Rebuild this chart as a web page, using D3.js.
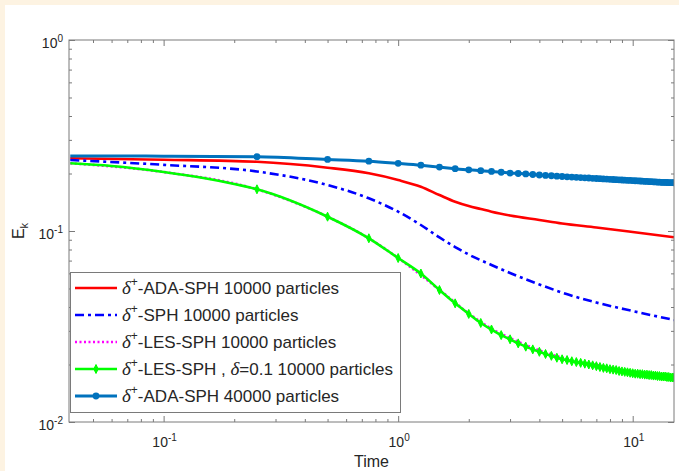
<!DOCTYPE html>
<html><head><meta charset="utf-8">
<script src="https://cdn.jsdelivr.net/npm/d3@7"></script>
<style>
html,body{margin:0;padding:0;background:#fdf3e2;}
svg{display:block;font-family:"Liberation Sans",Arial,sans-serif;}
</style></head><body>
<svg id="chart" width="679" height="471"></svg>
<script>
// ---- data (Time vs kinetic energy E_k, log-log) ----
const TIME_GRID = [0.25,0.5,0.75,1,1.25,1.5,1.75,2,2.25,2.5,2.75,3,3.25,3.5,3.75,4,4.25,4.5,4.75,5,
  5.25,5.5,5.75,6,6.25,6.5,6.75,7,7.25,7.5,7.75,8,8.25,8.5,8.75,9,9.25,9.5,9.75,10,
  10.25,10.5,10.75,11,11.25,11.5,11.75,12,12.25,12.5,12.75,13,13.25,13.5,13.75,14,14.25,14.5,14.75,15];

const RED_T = [0.04,0.1,0.25,0.5,0.75,1,1.25,1.5,1.75,2,2.25,2.5,3,4,5,7,10,15];
const RED_E = [0.2402,0.2362,0.2305,0.2145,0.2004,0.1849,0.1705,0.1543,0.1423,0.1351,0.1303,0.1262,0.1206,0.1142,0.1094,0.1043,0.0988,0.0927];

const SPH_T = [0.04,0.1,0.25,0.5,0.75,1,1.25,1.5,1.75,2,2.5,3,4,5,7,10,15];
const SPH_E = [0.2353,0.2220,0.2049,0.1741,0.1483,0.1262,0.1075,0.0925,0.0824,0.0753,0.0664,0.0603,0.0525,0.0476,0.0422,0.0381,0.0342];

const LES_T = [0.04,0.1,0.25,0.5,0.75,1,1.5,2,2.5,3,4,5,7,10,15];
const LES_E = [0.2262,0.2036,0.1653,0.1188,0.0916,0.0722,0.0492,0.0370,0.0308,0.0275,0.0237,0.0217,0.0199,0.0183,0.0173];

const LESD_T = [0.04,0.06,0.1,0.15,0.2].concat(TIME_GRID);
const LESD_E = [0.2262,0.2189,0.2036,0.1887,0.1762,
  0.1653,0.1188,0.0916,0.0722,0.0599,0.0491,0.0418,0.0368,0.0330,0.0305,0.0285,0.0271,0.0258,0.0248,0.0240,
  0.0233,0.0227,0.0222,0.0217,0.0213,0.0211,0.0208,0.0206,0.0204,0.0202,0.0200,0.0198,0.0196,0.0194,0.0192,
  0.0191,0.0189,0.0188,0.0187,0.0185,0.0184,0.0183,0.0182,0.0181,0.0180,0.0179,0.0179,0.0178,0.0178,0.0177,
  0.0177,0.0176,0.0176,0.0175,0.0175,0.0174,0.0174,0.0173,0.0173,0.0173,0.0172,0.0172,0.0171,0.0171,0.0171];

const A40_T = [0.04,0.1].concat(TIME_GRID);
const A40_E = [0.2470,0.2465,
  0.245,0.237,0.232,0.226,0.221,0.216,0.212,0.209,0.207,0.205,0.203,0.201,0.200,0.199,0.1976,
  0.1964,0.1955,0.1946,0.1937,0.1929,0.1922,0.1916,0.1910,0.1904,0.1899,0.1894,0.1888,0.1883,0.1879,0.1874,
  0.1870,0.1865,0.1861,0.1857,0.1853,0.1849,0.1846,0.1843,0.1840,0.1836,0.1833,0.1830,0.1827,0.1824,0.1821,
  0.1818,0.1815,0.1812,0.1809,0.1806,0.1804,0.1801,0.1799,0.1797,0.1795,0.1794,0.1792,0.1791,0.1790,0.1789];

const X_MAJOR = [0.1, 1, 10];
const X_MINOR = [0.05,0.06,0.07,0.08,0.09,0.2,0.3,0.4,0.5,0.6,0.7,0.8,0.9,2,3,4,5,6,7,8,9];
const Y_MAJOR = [0.01, 0.1, 1];
const Y_MINOR = [0.02,0.03,0.04,0.05,0.06,0.07,0.08,0.09,0.2,0.3,0.4,0.5,0.6,0.7,0.8,0.9];

const SERIES = [
  { t: RED_T,  e: RED_E,  color: '#ff0000', w: 2.6, dash: null,        marker: null,   label: ['-ADA-SPH 10000 particles'] },
  { t: SPH_T,  e: SPH_E,  color: '#0000ff', w: 2.6, dash: '9,4,3,4',   marker: null,   label: ['-SPH 10000 particles'] },
  { t: LES_T,  e: LES_E,  color: '#ff00ff', w: 2.6, dash: '2,2.5',     marker: null,   label: ['-LES-SPH 10000 particles'] },
  { t: LESD_T, e: LESD_E, color: '#00ff00', w: 2.6, dash: null,        marker: 'plus', label: ['-LES-SPH , ', 'δ', '=0.1 10000 particles'] },
  { t: A40_T,  e: A40_E,  color: '#0072bd', w: 3,   dash: null,        marker: 'dot',  label: ['-ADA-SPH 40000 particles'] },
];

// ---- layout ----
const W = 679, H = 471;
const P = { l: 69, r: 674, t: 40, b: 422 };
const AX = '#7a7a7a', TX = '#262626';
const svg = d3.select('#chart');
svg.append('rect').attr('x', 5).attr('y', 5).attr('width', W).attr('height', H).attr('fill', '#fff');

const x = d3.scaleLog([0.0395, 15], [P.l, P.r]);
const y = d3.scaleLog([0.01, 1], [P.b, P.t]);

// ticks (inward, boxed)
function ticks(axisFn, vals, size, tr) {
  const g = svg.append('g').attr('transform', tr)
    .call(axisFn.tickValues(vals).tickSize(-size).tickFormat(''));
  g.select('.domain').remove();
  g.selectAll('line').attr('stroke', AX);
}
[[X_MAJOR, 6], [X_MINOR, 3]].forEach(([v, s]) => {
  ticks(d3.axisBottom(x), v, s, `translate(0,${P.b})`);
  ticks(d3.axisTop(x), v, s, `translate(0,${P.t})`);
});
[[Y_MAJOR, 6], [Y_MINOR, 3]].forEach(([v, s]) => {
  ticks(d3.axisLeft(y), v, s, `translate(${P.l},0)`);
  ticks(d3.axisRight(y), v, s, `translate(${P.r},0)`);
});

// power-of-ten tick labels
function pow10(g, v) {
  g.append('tspan').text('10');
  g.append('tspan').attr('dy', -6).style('font-size', '10px').text(Math.round(Math.log10(v)));
}
X_MAJOR.forEach(v => {
  const t = svg.append('text').attr('x', x(v) + 1).attr('y', P.b + 25).attr('text-anchor', 'middle')
    .style('font-size', '14px').attr('fill', TX);
  pow10(t, v);
});
Y_MAJOR.forEach(v => {
  const t = svg.append('text').attr('x', 63).attr('y', y(v) + 8).attr('text-anchor', 'end')
    .style('font-size', '14px').attr('fill', TX);
  pow10(t, v);
});
svg.append('text').attr('x', (P.l + P.r) / 2).attr('y', 467).attr('text-anchor', 'middle')
  .style('font-size', '16px').attr('fill', TX).text('Time');
const yl = svg.append('text').attr('transform', `translate(24,${(P.t + P.b) / 2}) rotate(-90)`)
  .attr('text-anchor', 'middle').style('font-size', '16px').attr('fill', TX);
yl.append('tspan').text('E');
yl.append('tspan').attr('dy', 4).style('font-size', '11px').text('k');

// ---- lines ----
const clip = svg.append('clipPath').attr('id', 'clip').append('rect')
  .attr('x', P.l).attr('y', P.t).attr('width', P.r - P.l).attr('height', P.b - P.t);
const plot = svg.append('g').attr('clip-path', 'url(#clip)');
const line = d3.line().x(d => x(d[0])).y(d => y(d[1])).curve(d3.curveMonotoneX);

const plusPath = 'M0,-4.5L2.2,0L0,4.5L-2.2,0Z';
function drawMarker(g, kind, cx, cy, color) {
  if (kind === 'dot') g.append('circle').attr('cx', cx).attr('cy', cy).attr('r', 3.4).attr('fill', color);
  if (kind === 'plus') g.append('path').attr('d', plusPath).attr('transform', `translate(${cx},${cy})`)
    .attr('fill', color).attr('stroke', color).attr('stroke-width', 1);
}

SERIES.forEach(s => {
  const pts = s.t.map((t, i) => [t, s.e[i]]);
  plot.append('path').datum(pts).attr('fill', 'none').attr('stroke', s.color)
    .attr('stroke-width', s.w).attr('stroke-dasharray', s.dash).attr('d', line);
  if (s.marker) {
    const mg = plot.append('g');
    pts.filter(p => p[0] >= 0.25).forEach(p => drawMarker(mg, s.marker, x(p[0]), y(p[1]), s.color));
  }
});

// box
svg.append('rect').attr('x', P.l).attr('y', P.t).attr('width', P.r - P.l).attr('height', P.b - P.t)
  .attr('fill', 'none').attr('stroke', AX).attr('stroke-width', 1);

// ---- legend ----
const lg = svg.append('g');
lg.append('rect').attr('x', 70.5).attr('y', 272.5).attr('width', 330).attr('height', 140)
  .attr('fill', '#fff').attr('stroke', AX).attr('stroke-width', 1);
SERIES.forEach((s, i) => {
  const ry = 288 + i * 27;
  lg.append('line').attr('x1', 75).attr('x2', 117).attr('y1', ry).attr('y2', ry)
    .attr('stroke', s.color).attr('stroke-width', s.w).attr('stroke-dasharray', s.dash);
  if (s.marker) drawMarker(lg, s.marker, 96, ry, s.color);
  const t = lg.append('text').attr('x', 122).attr('y', ry + 6).style('font-size', '17px').attr('fill', TX);
  t.append('tspan').style('font-family', '"Liberation Serif",serif').style('font-style', 'italic')
    .style('font-size', '19px').text('δ');
  t.append('tspan').attr('dy', -8).style('font-size', '12px').text('+');
  s.label.forEach((part, j) => {
    const sp = t.append('tspan').attr('dy', j === 0 ? 8 : 0).text(part);
    if (part === 'δ') sp.style('font-family', '"Liberation Serif",serif').style('font-style', 'italic').style('font-size', '19px');
  });
});
</script>
</body></html>
